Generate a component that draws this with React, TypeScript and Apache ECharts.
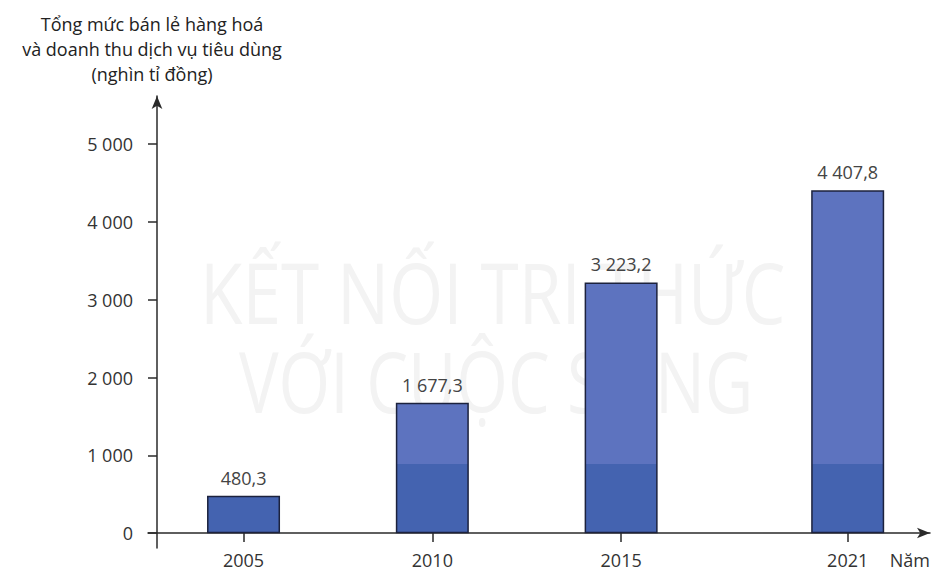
import React, { useEffect, useRef } from 'react';
import * as echarts from 'echarts';

// ---- data ----
const years = [2005, 2010, 2015, 2021];
const values = [480.3, 1677.3, 3223.2, 4407.8];
const yTicks = [0, 1000, 2000, 3000, 4000, 5000];
const yTitleLines = ['Tổng mức bán lẻ hàng hoá', 'và doanh thu dịch vụ tiêu dùng', '(nghìn tỉ đồng)'];
const xName = 'Năm';
const watermarkLines = ['KẾT NỐI TRI THỨC', 'VỚI CUỘC SỐNG'];

// ---- style ----
const FONT = '"Open Sans", "Noto Sans", sans-serif';
const LIGHT = '#5d73bf';
const DARK = '#4463b0';
const SPLIT = 890; // level where the bar tone changes
const AXIS = '#2a2a2a';

function fmtVi(v: number, decimals: number): string {
  const [i, d] = v.toFixed(decimals).split('.');
  const int = i.replace(/\B(?=(\d{3})+(?!\d))/g, ' ');
  return d ? int + ',' + d : int;
}

function barColor(v: number): any {
  if (v <= SPLIT) return DARK;
  const f = (v - SPLIT) / v;
  return new echarts.graphic.LinearGradient(0, 0, 0, 1, [
    { offset: 0, color: LIGHT },
    { offset: f, color: LIGHT },
    { offset: f, color: DARK },
    { offset: 1, color: DARK },
  ]);
}

function measure(text: string, font: string): number {
  const ctx = document.createElement('canvas').getContext('2d');
  if (!ctx) return 1;
  ctx.font = font;
  return ctx.measureText(text).width || 1;
}

export default function App() {
  const ref = useRef<HTMLDivElement>(null);
  useEffect(() => {
    if (!ref.current) return;
    const chart = echarts.init(ref.current, null, { renderer: 'svg' });

    const wmFont = '400 84px "Open Sans"';
    const wmBoxes = [
      { x0: 200, x1: 785, yc: 292 },
      { x0: 239, x1: 753, yc: 380 },
    ];
    const graphic = watermarkLines.map((t, i) => {
      const w = measure(t, wmFont);
      const b = wmBoxes[i];
      return {
        type: 'text',
        x: b.x0,
        y: b.yc,
        scaleX: (b.x1 - b.x0) / w,
        z: -10,
        silent: true,
        style: {
          text: t,
          font: wmFont,
          fill: '#f3f3f3',
          align: 'left',
          verticalAlign: 'middle',
        },
      };
    });

    const data = years.map((y, i) => ({
      value: [y, values[i]],
      itemStyle: { color: barColor(values[i]) },
    }));

    chart.setOption({
      animation: false,
      textStyle: { fontFamily: FONT },
      grid: {
        left: 148,
        right: 4,
        top: 96,
        bottom: 25,
        containLabel: false,
        outerBoundsMode: 'none',
      },
      xAxis: {
        type: 'value',
        position: 'bottom',
        offset: -15,
        min: 2002.47,
        max: 2023.18,
        splitLine: { show: false },
        axisLine: {
          onZero: false,
          lineStyle: { color: AXIS, width: 1.5 },
          symbol: ['none', 'arrow'],
          symbolSize: [8, 13],
        },
        axisTick: { customValues: years, length: 9, lineStyle: { color: AXIS, width: 1.5 } },
        axisLabel: {
          customValues: years,
          formatter: (v: number) => String(v),
          margin: 18,
          fontSize: 18,
          lineHeight: 18,
          color: '#333',
          fontFamily: FONT,
        },
        name: xName,
        nameLocation: 'end',
        nameGap: 0,
        nameTextStyle: {
          align: 'right',
          verticalAlign: 'top',
          padding: [18, 0, 0, 0],
          fontSize: 18,
          lineHeight: 18,
          color: '#333',
          fontFamily: FONT,
        },
      },
      yAxis: {
        type: 'value',
        min: -190,
        max: 5620,
        offset: -9,
        splitLine: { show: false },
        axisLine: {
          show: true,
          onZero: false,
          lineStyle: { color: AXIS, width: 1.5 },
          symbol: ['none', 'arrow'],
          symbolSize: [8, 13],
        },
        axisTick: { show: true, customValues: yTicks, length: 9, lineStyle: { color: AXIS, width: 1.5 } },
        axisLabel: {
          customValues: yTicks,
          formatter: (v: number) => fmtVi(v, 0),
          margin: 24,
          fontSize: 18,
          color: '#333',
          fontFamily: FONT,
        },
        name: yTitleLines.join('\n'),
        nameLocation: 'end',
        nameGap: 10,
        nameTextStyle: {
          align: 'center',
          verticalAlign: 'bottom',
          lineHeight: 25,
          fontSize: 18,
          color: '#222',
          padding: [0, 10, 0, 0],
          fontFamily: FONT,
        },
      },
      series: [
        {
          type: 'bar',
          data,
          barWidth: 73,
          itemStyle: { borderColor: '#1c223d', borderWidth: 1.5 },
          label: {
            show: true,
            position: 'top',
            distance: 9,
            formatter: (p: any) => fmtVi(p.value[1], 1),
            fontSize: 18,
            color: '#444',
            fontFamily: FONT,
          },
        },
      ],
      graphic,
    });
    return () => chart.dispose();
  }, []);
  return (
    <div
      ref={ref}
      style={{ position: 'fixed', left: 0, top: 0, width: 934, height: 573, background: '#fff' }}
    />
  );
}
